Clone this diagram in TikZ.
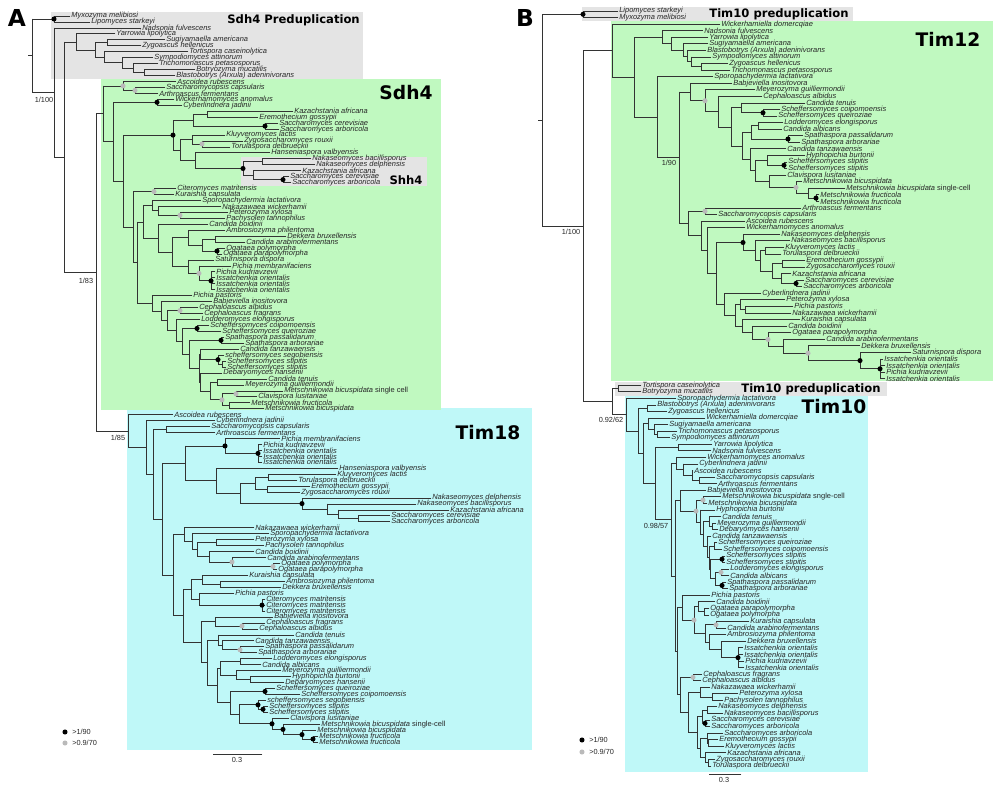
\documentclass[tikz,border=0pt]{standalone}
\usepackage{fontspec}
\setmainfont{Liberation Sans}
\newfontfamily\djv{DejaVu Sans}
\definecolor{greybox}{RGB}{228,228,228}
\definecolor{greenbox}{RGB}{192,249,192}
\definecolor{cyanbox}{RGB}{191,248,248}
\newcount\lfno
\newcount\cdno
\newcommand\lffont{\fontsize{5.6}{6}\selectfont\itshape}
\def\PhReg#1{\ifx\firsty\relax\edef\firsty{#1}\fi\edef\lasty{#1}}
\newcommand\TL[2]{%
  \global\advance\lfno by 1
  \draw[br] (\px,\leafy) -- (#1,\leafy);
  \node[lf] (lf\the\lfno) at (#1,\leafy) {#2};
  \PhReg{\leafy}%
  \pgfmathsetmacro\tmpy{\leafy+\dy}\xdef\leafy{\tmpy}%
}
\newcommand\TC[3][]{%
  \begingroup
  \let\parx\px
  \def\px{#2}%
  \let\firsty\relax\let\lasty\relax
  #3%
  \pgfmathsetmacro\myy{(\firsty+\lasty)/2}%
  \draw[br] (#2,\firsty) -- (#2,\lasty);
  \draw[br] (\parx,\myy) -- (#2,\myy);
  \global\advance\cdno by 1
  \def\mk{#1}\ifx\mk\empty\else\node[#1] (cd\the\cdno) at (#2,\myy) {};\fi
  \xdef\retY{\myy}%
  \endgroup
  \PhReg{\retY}%
}
\tikzset{
  br/.style={draw=black!80, line width=0.6pt, line cap=rect},
  lf/.style={anchor=west, inner sep=0pt, xshift=0.8pt, font=\lffont, text=black!85},
  bd/.style={circle, fill=black, inner sep=0pt, minimum size=3.8pt},
  gd/.style={circle, fill=black!27, inner sep=0pt, minimum size=3.8pt},
  sl/.style={inner sep=0pt, font=\fontsize{5.5}{6}\selectfont, text=black!85},
  biglab/.style={inner sep=0pt, font=\djv\bfseries\fontsize{14}{16}\selectfont},
  midlab/.style={inner sep=0pt, font=\djv\bfseries\fontsize{8.7}{10}\selectfont},
  panlab/.style={inner sep=0pt, font=\djv\bfseries\fontsize{17.5}{20}\selectfont},
}
\begin{document}
\begin{tikzpicture}[x=0.75pt,y=-0.75pt]
\useasboundingbox (0,0) rectangle (1000,789);
\fill[white] (0,0) rectangle (1000,789);
% ---------- boxes panel A
\fill[greybox] (51,12) rectangle (363,79);
\fill[cyanbox] (127,408) rectangle (532,750);
\fill[greenbox] (101,79) rectangle (441,410);
\fill[greybox] (241,157) rectangle (427,186);
% ---------- boxes panel B
\fill[greybox] (582,7) rectangle (853,21);
\fill[greenbox] (611,21) rectangle (993,381);
\fill[greybox] (615,382) rectangle (887,396);
\fill[cyanbox] (625,396) rectangle (868,772);
% ================= PANEL A tree
\def\px{28}\xdef\leafy{16}\def\dy{5.951}\let\firsty\relax
\TC{32}{
 \TC[bd]{54}{\TL{70}{Myxozyma melibiosi}\TL{90}{Lipomyces starkeyi}}
 \TC{54}{
  \TL{141}{Nadsonia fulvescens}
  \TC{64}{
   \TC{76}{
    \TL{115}{Yarrowia lipolytica}
    \TC{95}{
     \TC{107}{\TL{165}{Sugiyamaella americana}\TL{141}{Zygoascus hellenicus}}
     \TC{104}{
      \TL{188}{Tortispora caseinolytica}
      \TC{122}{
       \TL{153}{Sympodiomyces attinorum}
       \TC{133}{
        \TL{158}{Trichomonascus petasosporus}
        \TC{144}{\TL{195}{Botryozyma mucatilis}\TL{175}{Blastobotrys (Arxula) adeninivorans}}
       }
      }
     }
    }
   }
   \TC{96}{
    \TC{103}{
     \TC[gd]{123}{\TL{176}{Ascoidea rubescens}\TC[gd]{135}{\TL{165}{Saccharomycopsis capsularis}\TL{158}{Arthroascus fermentans}}}
     \TC{113}{
      \TC[bd]{157}{\TL{174}{Wickerhamomyces anomalus}\TL{182}{Cyberlindnera jadinii}}
      \TC{123}{
       \TC[bd]{173}{
        \TC{193}{
         \TC{207}{\TL{293}{Kazachstania africana}\TL{258}{Eremothecium gossypii}}
         \TC[bd]{265}{\TL{278}{Saccharomyces cerevisiae}\TL{279}{Saccharomyces arboricola}}
        }
        \TC{180}{
         \TC{192}{\TL{225}{Kluyveromyces lactis}\TC[gd]{202}{\TL{243}{Zygosaccharomyces rouxii}\TL{230}{Torulaspora delbrueckii}}}
         \TC{195}{
          \TL{270}{Hanseniaspora valbyensis}
          \TC[bd]{243}{
           \TC{262}{\TL{311}{Nakaseomyces bacillisporus}\TL{315}{Nakaseomyces delphensis}}
           \TC{253}{\TL{301}{Kazachstania africana}\TC[bd]{283}{\TL{289}{Saccharomyces cerevisiae}\TL{291}{Saccharomyces arboricola}}}
          }
         }
        }
       }
       \TC{133}{
        \TC[gd]{154}{\TL{176}{Citeromyces matritensis}\TL{174}{Kuraishia capsulata}}
        \TC{137}{
         \TC{143}{
          \TC{152}{\TL{201}{Sporopachydermia lactativora}\TC{158}{\TL{221}{Nakazawaea wickerhamii}\TC[gd]{180}{\TL{228}{Peterozyma xylosa}\TL{225}{Pachysolen tannophilus}}}}
          \TC{158}{
           \TL{208}{Candida boidinii}
           \TC{172}{
            \TC{188}{\TL{225}{Ambrosiozyma philentoma}\TC{202}{\TC{215}{\TL{286}{Dekkera bruxellensis}\TL{245}{Candida arabinofermentans}}\TC[bd]{217}{\TL{225}{Ogataea polymorpha}\TL{222}{Ogataea parapolymorpha}}}}
            \TC{188}{\TL{214}{Saturnispora dispora}\TC[gd]{199}{\TL{231}{Pichia membranifaciens}\TC[bd]{211}{\TL{215}{Pichia kudriavzevii}\TL{215}{Issatchenkia orientalis}\TL{215}{Issatchenkia orientalis}\TL{215}{Issatchenkia orientalis}}}}
           }
          }
         }
         \TC{152}{
          \TL{192}{Pichia pastoris}
          \TC{161}{
           \TL{212}{Babjeviella inositovora}
           \TC{167}{
            \TC[gd]{180}{\TL{198}{Cephaloascus albidus}\TL{203}{Cephaloascus fragrans}}
            \TC{176}{
             \TL{200}{Lodderomyces elongisporus}
             \TC{182}{
              \TC[bd]{197}{\TL{209}{Scheffersomyces coipomoensis}\TL{221}{Scheffersomyces queiroziae}}
              \TC{189}{
               \TC[bd]{221}{\TL{224}{Spathaspora passalidarum}\TL{244}{Spathaspora arborariae}}
               \TC{199}{
                \TC{200}{\TL{239}{Candida tanzawaensis}\TC[bd]{218}{\TL{224}{scheffersomyces segobiensis}\TC{222}{\TL{226}{Scheffersomyces stipitis}\TL{226}{Scheffersomyces stipitis}}}}
                \TC{200}{\TL{222}{Debaryomyces hansenii}\TC{210}{\TC{217}{\TL{267}{Candida tenuis}\TL{244}{Meyerozyma guilliermondii}}\TC[gd]{222}{\TC[gd]{236}{\TL{283}{Metschnikowia bicuspidata \textup{single cell}}\TL{257}{Clavispora lusitaniae}}\TC{229}{\TL{250}{Metschnikowia fructicola}\TL{264}{Metschnikowia bicuspidata}}}}}
               }
              }
             }
            }
           }
          }
         }
        }
       }
      }
     }
    }
    \TC{128}{
     \TL{173}{Ascoidea rubescens}
     \TC{146}{
      \TL{215}{Cyberlindnera jadinii}
      \TC{153}{
       \TC{166}{\TL{210}{Saccharomycopsis capsularis}\TL{215}{Arthroascus fermentans}}
       \TC{162}{
        \TC{185}{
         \TC[bd]{225}{\TL{280}{Pichia membranifaciens}\TC[bd]{258}{\TL{262}{Pichia kudriavzevii}\TL{262}{Issatchenkia orientalis}\TL{262}{Issatchenkia orientalis}\TL{262}{Issatchenkia orientalis}}}
         \TC{216}{
          \TL{338}{Hanseniaspora valbyensis}
          \TC{240}{
           \TC{255}{\TC{268}{\TL{336}{Kluyveromyces lactis}\TL{297}{Torulaspora delbrueckii}}\TC{267}{\TL{310}{Eremothecium gossypii}\TL{300}{Zygosaccharomyces rouxii}}}
           \TC[bd]{302}{\TL{431}{Nakaseomyces delphensis}\TC{327}{\TL{416}{Nakaseomyces bacillisporus}\TC{338}{\TL{449}{Kazachstania africana}\TC{358}{\TL{390}{Saccharomyces cerevisiae}\TL{390}{Saccharomyces arboricola}}}}}
          }
         }
        }
        \TC{173}{
         \TC{184}{
          \TL{254}{Nakazawaea wickerhamii}
          \TC{192}{
           \TL{269}{Sporopachydermia lactativora}
           \TC{197}{
            \TC{216}{\TL{254}{Peterozyma xylosa}\TL{264}{Pachysolen tannophilus}}
            \TC{209}{\TL{254}{Candida boidinii}\TC[gd]{232}{\TL{266}{Candida arabinofermentans}\TC[gd]{273}{\TL{280}{Ogataea polymorpha}\TL{277}{Ogataea parapolymorpha}}}}
           }
          }
         }
         \TC{183}{
          \TC{191}{
           \TC{202}{\TL{248}{Kuraishia capsulata}\TC{220}{\TL{285}{Ambrosiozyma philentoma}\TL{281}{Dekkera bruxellensis}}}
           \TC{199}{\TL{234}{Pichia pastoris}\TC[bd]{262}{\TL{265}{Citeromyces matritensis}\TL{265}{Citeromyces matritensis}\TL{265}{Citeromyces matritensis}}}
          }
          \TC{201}{
           \TC{215}{\TL{273}{Babjeviella inositovora}\TC[gd]{242}{\TL{265}{Cephaloascus fragrans}\TL{258}{Cephaloascus albidus}}}
           \TC{207}{
            \TC{218}{\TL{294}{Candida tenuis}\TC{222}{\TL{254}{Candida tanzawaensis}\TC[gd]{240}{\TL{264}{Spathaspora passalidarum}\TL{257}{Spathaspora arborariae}}}}
            \TC{217}{
             \TC{220}{\TC{240}{\TL{272}{Lodderomyces elongisporus}\TL{261}{Candida albicans}}\TC{236}{\TL{281}{Meyerozyma guilliermondii}\TC{250}{\TL{291}{Hyphopichia burtonii}\TL{284}{Debaryomyces hansenii}}}}
             \TC{230}{
              \TC[bd]{265}{\TL{275}{Scheffersomyces queiroziae}\TL{300}{Scheffersomyces coipomoensis}}
              \TC{239}{
               \TC[bd]{258}{\TL{266}{scheffersomyces segobiensis}\TC[bd]{263}{\TL{268}{Scheffersomyces stipitis}\TL{268}{Scheffersomyces stipitis}}}
               \TC[bd]{272}{\TL{289}{Clavispora lusitaniae}\TC[bd]{283}{\TL{320}{Metschnikowia bicuspidata \textup{single-cell}}\TC[bd]{302}{\TL{316}{Metschnikowia bicuspidata}\TC[bd]{313}{\TL{318}{Metschnikowia fructicola}\TL{318}{Metschnikowia fructicola}}}}}
              }
             }
            }
           }
          }
         }
        }
       }
      }
     }
    }
   }
  }
 }
}
% ================= PANEL B tree
\def\px{538}\xdef\leafy{11}\def\dy{6.565}\let\firsty\relax
\TC{542}{
 \TC[bd]{583}{\TL{618}{Lipomyces starkeyi}\TL{618}{Myxozyma melibiosi}}
 \TC{583}{
  \TC{612}{
   \TL{720}{Wickerhamiella domercqiae}
   \TC{634}{
    \TC{662}{\TL{703}{Nadsonia fulvescens}\TC{671}{\TL{708}{Yarrowia lipolytica}\TC{683}{\TL{708}{Sugiyamaella americana}\TC{687}{\TL{706}{Blastobotrys (Arxula) adeninivorans}\TC{691}{\TL{711}{Sympodiomyces attinorum}\TC{701}{\TL{728}{Zygoascus hellenicus}\TL{730}{Trichomonascus petasosporus}}}}}}}
    \TC{657}{
     \TL{713}{Sporopachydermia lactativora}
     \TC{679}{
      \TC{690}{
       \TL{732}{Babjeviella inositovora}
       \TC[gd]{705}{
        \TL{755}{Meyerozyma guilliermondii}
        \TC{718}{
         \TL{762}{Cephaloascus albidus}
         \TC{731}{
          \TC{741}{\TL{805}{Candida tenuis}\TC[bd]{763}{\TL{780}{Scheffersomyces coipomoensis}\TL{777}{Scheffersomyces queiroziae}}}
          \TC{742}{
           \TC{751}{\TC{758}{\TL{783}{Lodderomyces elongisporus}\TL{782}{Candida albicans}}\TC[bd]{788}{\TL{803}{Spathaspora passalidarum}\TL{800}{Spathaspora arborariae}}}
           \TC{750}{
            \TL{786}{Candida tanzawaensis}
            \TC{755}{
             \TC{767}{\TL{805}{Hyphopichia burtonii}\TC[bd]{784}{\TL{787}{Scheffersomyces stipitis}\TL{787}{Scheffersomyces stipitis}}}
             \TC{769}{\TL{786}{Clavispora lusitaniae}\TC[gd]{796}{\TL{802}{Metschnikowia bicuspidata}\TC{808}{\TL{845}{Metschnikowia bicuspidata \textup{single-cell}}\TC[bd]{816}{\TL{819}{Metschnikowia fructicola}\TL{819}{Metschnikowia fructicola}}}}}
            }
           }
          }
         }
        }
       }
      }
      \TC{688}{
       \TC[gd]{705}{\TL{801}{Arthroascus fermentans}\TL{717}{Saccharomycopsis capsularis}}
       \TC{701}{
        \TL{745}{Ascoidea rubescens}
        \TC{707}{
         \TL{745}{Wickerhamomyces anomalus}
         \TC{716}{
          \TC[bd]{743}{\TL{780}{Nakaseomyces delphensis}\TC{755}{\TL{790}{Nakaseomyces bacillisporus}\TC{760}{\TC{765}{\TL{784}{Kluyveromyces lactis}\TL{781}{Torulaspora delbrueckii}}\TC{772}{\TC{782}{\TL{805}{Eremothecium gossypii}\TL{805}{Zygosaccharomyces rouxii}}\TC{781}{\TL{791}{Kazachstania africana}\TC[bd]{796}{\TL{804}{Saccharomyces cerevisiae}\TL{802}{Saccharomyces arboricola}}}}}}}
          \TC{724}{
           \TL{761}{Cyberlindnera jadinii}
           \TC{735}{
            \TC{740}{\TL{785}{Peterozyma xylosa}\TC{745}{\TL{793}{Pichia pastoris}\TL{791}{Nakazawaea wickerhamii}}}
            \TC{742}{\TL{800}{Kuraishia capsulata}\TC{752}{\TL{787}{Candida boidinii}\TC[gd]{768}{\TL{791}{Ogataea parapolymorpha}\TC{783}{\TL{825}{Candida arabinofermentans}\TC[gd]{808}{\TL{860}{Dekkera bruxellensis}\TC[bd]{860}{\TL{911}{Saturnispora dispora}\TC[bd]{880}{\TL{883}{Issatchenkia orientalis}\TL{885}{Issatchenkia orientalis}\TL{885}{Pichia kudriavzevii}\TL{885}{Issatchenkia orientalis}}}}}}}}
           }
          }
         }
        }
       }
      }
     }
    }
   }
  }
  \TC{612}{
   \TC{618}{\TL{641}{Tortispora caseinolytica}\TL{641}{Botryozyma mucatilis}}
   \TC{626}{
    \TL{676}{Sporopachydermia lactativora}
    \TC{638}{
     \TC{647}{\TL{656}{Blastobotrys (Arxula) adeninivorans}\TL{667}{Zygoascus hellenicus}}
     \TC{643}{
      \TC{648}{\TL{705}{Wickerhamiella domercqiae}\TC{654}{\TL{668}{Sugiyamaella americana}\TC{657}{\TL{677}{Trichomonascus petasosporus}\TL{670}{Sympodiomyces attinorum}}}}
      \TC{655}{
       \TC{678}{\TL{712}{Yarrowia lipolytica}\TL{711}{Nadsonia fulvescens}}
       \TC{671}{
        \TC{676}{\TL{706}{Wickerhamomyces anomalus}\TC{683}{\TL{698}{Cyberlindnera jadinii}\TC{692}{\TL{693}{Ascoidea rubescens}\TC{699}{\TL{715}{Saccharomycopsis capsularis}\TL{717}{Arthroascus fermentans}}}}}
        \TC{675}{
         \TC{680}{
          \TL{706}{Babjeviella inositovora}
          \TC[gd]{696}{
           \TC[gd]{703}{\TL{721}{Metschnikowia bicuspidata \textup{sngle-cell}}\TL{707}{Metschnikowia bicuspidata}}
           \TC{700}{
            \TL{715}{Hyphopichia burtonii}
            \TC{703}{
             \TC{709}{\TL{721}{Candida tenuis}\TC{712}{\TL{716}{Meyerozyma guilliermondii}\TL{718}{Debaryomyces hansenii}}}
             \TC{707}{
              \TL{711}{Candida tanzawaensis}
              \TC{709}{
               \TC{714}{\TL{717}{Scheffersomyces queiroziae}\TL{722}{Scheffersomyces coipomoensis}}
               \TC{710}{
                \TC[bd]{722}{\TL{725}{Scheffersomyces stipitis}\TL{725}{Scheffersomyces stipitis}}
                \TC{715}{\TC[gd]{721}{\TL{729}{Lodderomyces elongisporus}\TL{729}{Candida albicans}}\TC[bd]{722}{\TL{726}{Spathaspora passalidarum}\TL{728}{Spathaspora arborariae}}}
               }
              }
             }
            }
           }
          }
         }
         \TC{677}{
          \TC{682}{
           \TL{710}{Pichia pastoris}
           \TC[gd]{694}{
            \TC{698}{\TL{715}{Candida boidinii}\TC{704}{\TL{709}{Ogataea parapolymorpha}\TL{709}{Ogataea polymorpha}}}
            \TC{705}{\TC[gd]{716}{\TL{749}{Kuraishia capsulata}\TL{726}{Candida arabinofermentans}}\TC{709}{\TL{726}{Ambrosiozyma philentoma}\TC{721}{\TL{746}{Dekkera bruxellensis}\TC[bd]{738}{\TL{743}{Issatchenkia orientalis}\TL{743}{Issatchenkia orientalis}\TL{744}{Pichia kudriavzevii}\TL{744}{Issatchenkia orientalis}}}}}
           }
          }
          \TC{680}{
           \TC[gd]{693}{\TL{702}{Cephaloascus fragrans}\TL{701}{Cephaloascus albidus}}
           \TC{688}{
            \TC{700}{\TL{710}{Nakazawaea wickerhamii}\TC{712}{\TL{738}{Peterozyma xylosa}\TL{723}{Pachysolen tannophilus}}}
            \TC{697}{
             \TC{702}{\TC{707}{\TL{717}{Nakaseomyces delphensis}\TL{723}{Nakaseomyces bacillisporus}}\TC[bd]{705}{\TL{710}{Saccharomyces cerevisiae}\TL{710}{Saccharomyces arboricola}}}
             \TC{700}{\TC{707}{\TL{723}{Saccharomyces arboricola}\TC{708}{\TL{718}{Eremothecium gossypii}\TL{724}{Kluyveromyces lactis}}}\TC{705}{\TL{726}{Kazachstania africana}\TC{708}{\TL{715}{Zygosaccharomyces rouxii}\TL{711}{Torulaspora delbrueckii}}}}
            }
           }
          }
         }
        }
       }
      }
     }
    }
   }
  }
 }
}
% ---------- box labels
\node[panlab] (labA) at (17,18) {A};
\node[panlab] (labB) at (525,18) {B};
\node[midlab, anchor=east] (preA) at (360,20) {Sdh4 Preduplication};
\node[biglab] (sdh) at (406,93) {Sdh4};
\node[midlab] (shh) at (406,180) {Shh4};
\node[biglab] (tim18) at (488,433) {Tim18};
\node[midlab] (preB1) at (779,14) {Tim10 preduplication};
\node[biglab] (tim12) at (948,39) {Tim12};
\node[midlab] (preB2) at (811,389) {Tim10 preduplication};
\node[biglab] (tim10) at (834,407) {Tim10};
% ---------- support values
\node[sl] (sA1) at (44,100) {1/100};
\node[sl] (sA2) at (86,281) {1/83};
\node[sl] (sA3) at (118,438) {1/85};
\node[sl] (sB1) at (571,232) {1/100};
\node[sl] (sB2) at (669,163) {1/90};
\node[sl] (sB3) at (611,420) {0.92/62};
\node[sl] (sB4) at (656,526) {0.98/57};
% ---------- legends
\node[bd] (legAb) at (65,732) {};
\node[sl, anchor=west] (legAbt) at (72,732) {>1/90};
\node[gd] (legAg) at (65,743) {};
\node[sl, anchor=west] (legAgt) at (72,743) {>0.9/70};
\node[bd] (legBb) at (582,740) {};
\node[sl, anchor=west] (legBbt) at (589,740) {>1/90};
\node[gd] (legBg) at (582,752) {};
\node[sl, anchor=west] (legBgt) at (589,752) {>0.9/70};
% ---------- scale bars
\coordinate (scA1) at (213,754);
\coordinate (scA2) at (262,754);
\draw[br] (scA1) -- (scA2);
\node[sl] (scAt) at (237,760) {0.3};
\coordinate (scB1) at (709,774);
\coordinate (scB2) at (741,774);
\draw[br] (scB1) -- (scB2);
\node[sl] (scBt) at (724,780) {0.3};
\end{tikzpicture}
\end{document}
